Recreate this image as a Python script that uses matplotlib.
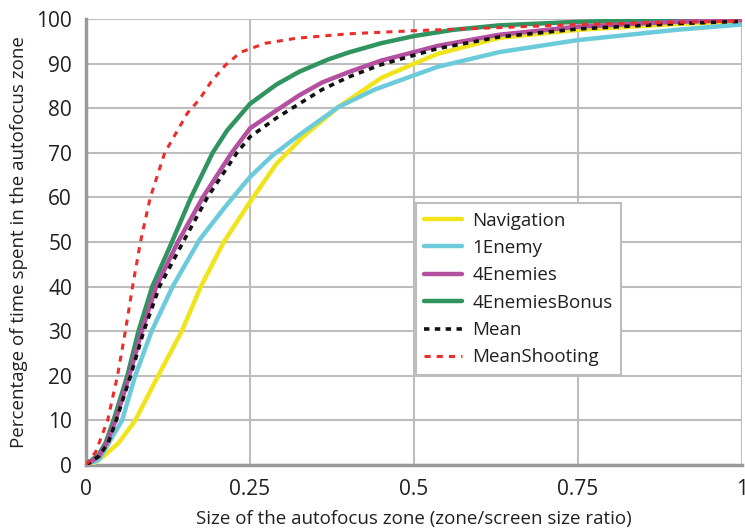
import matplotlib
matplotlib.use('Agg')
import matplotlib.pyplot as plt

plt.rcParams['font.family'] = ['Open Sans', 'DejaVu Sans']

# curves (x = zone/screen size ratio, y = % time)
nav_x = [0, 0.01, 0.027, 0.05, 0.075, 0.11, 0.146, 0.175, 0.21, 0.25, 0.29, 0.33, 0.385, 0.45, 0.5, 0.536, 0.63, 0.75, 0.9, 1.0]
nav_y = [0, 0.2, 2, 5, 10, 20, 30, 40, 50, 59, 67.5, 73.5, 80.3, 86.8, 90, 92.2, 95.8, 97.6, 98.9, 99.5]

one_x = [0, 0.02, 0.035, 0.055, 0.075, 0.1, 0.132, 0.173, 0.21, 0.238, 0.25, 0.284, 0.325, 0.385, 0.44, 0.5, 0.536, 0.63, 0.75, 0.9, 1.0]
one_y = [0, 1.2, 5, 10, 20, 30, 40, 50.5, 57.5, 62.5, 64.6, 69.4, 74, 80.3, 84.2, 87.4, 89.3, 92.6, 95.3, 97.6, 98.8]

four_x = [0, 0.02, 0.032, 0.045, 0.066, 0.085, 0.107, 0.14, 0.178, 0.222, 0.25, 0.29, 0.325, 0.36, 0.40, 0.45, 0.5, 0.536, 0.63, 0.75, 0.9, 1.0]
four_y = [0, 2, 5, 10, 20, 30, 40, 50, 60, 70, 75.5, 79.5, 82.9, 85.8, 88.1, 90.7, 92.6, 94, 96.5, 98.3, 99.4, 99.8]

bonus_x = [0, 0.02, 0.03, 0.042, 0.063, 0.08, 0.101, 0.131, 0.16, 0.193, 0.215, 0.25, 0.29, 0.325, 0.37, 0.40, 0.45, 0.5, 0.56, 0.63, 0.75, 0.9, 1.0]
bonus_y = [0, 2.5, 5, 10, 20, 30, 40, 50, 60, 70, 75, 81, 85.3, 88.2, 91, 92.5, 94.6, 96.2, 97.6, 98.6, 99.4, 99.9, 100]

mean_x = [0, 0.02, 0.034, 0.046, 0.068, 0.088, 0.112, 0.148, 0.185, 0.23, 0.25, 0.29, 0.325, 0.36, 0.40, 0.45, 0.5, 0.536, 0.63, 0.75, 0.9, 1.0]
mean_y = [0, 2, 5, 10, 20, 30, 40, 50, 60, 70, 73.6, 77.8, 81, 84.2, 87, 89.8, 91.9, 93.4, 96, 97.8, 99, 99.5]

shoot_x = [0, 0.015, 0.033, 0.048, 0.06, 0.071, 0.083, 0.098, 0.12, 0.155, 0.173, 0.191, 0.212, 0.236, 0.274, 0.32, 0.4, 0.5, 0.63, 0.75, 0.9, 1.0]
shoot_y = [0, 3, 10, 20, 30, 40, 50, 60, 70, 79, 82, 86, 89.6, 92.6, 94.6, 95.7, 96.7, 97.4, 98.1, 98.8, 99.3, 99.6]

x_ticks = [0, 0.25, 0.5, 0.75, 1]
x_tick_labels = ['0', '0.25', '0.5', '0.75', '1']
y_ticks = list(range(0, 101, 10))

fig = plt.figure(figsize=(7.45, 5.31), dpi=100)
ax = fig.add_axes([0.1154, 0.1243, 0.8806, 0.8397])

lw = 3.2
kw = dict(solid_joinstyle='round', solid_capstyle='round')
ax.plot(nav_x, nav_y, color='#f0e41c', lw=lw, label='Navigation', zorder=3, **kw)
ax.plot(one_x, one_y, color='#6ccbda', lw=lw, label='1Enemy', zorder=3, **kw)
ax.plot(four_x, four_y, color='#b3509f', lw=lw, label='4Enemies', zorder=4, **kw)
ax.plot(bonus_x, bonus_y, color='#2f9460', lw=lw, label='4EnemiesBonus', zorder=3, **kw)
ax.plot(mean_x, mean_y, color='#111111', lw=2.6, ls=(0, (1.5, 1.5)), label='Mean', zorder=5)
ax.plot(shoot_x, shoot_y, color='#ee2c2c', lw=2.2, ls=(0, (2.0, 2.0)), label='MeanShooting', zorder=5)

ax.set_xlim(0, 1)
ax.set_ylim(0, 100)
ax.set_xticks(x_ticks)
ax.set_xticklabels(x_tick_labels)
ax.set_yticks(y_ticks)

ax.grid(True, color='#bdbdbd', lw=1.5, zorder=0)
ax.set_axisbelow(True)
for s in ['top', 'right']:
    ax.spines[s].set_visible(False)
for s in ['left', 'bottom']:
    ax.spines[s].set_color('#9a9a9a')
    ax.spines[s].set_linewidth(2.5)
ax.tick_params(length=0, labelsize=15, colors='#231f20', pad=10)

ax.set_xlabel('Size of the autofocus zone (zone/screen size ratio)', fontsize=13.5, color='#231f20', labelpad=7)
ax.set_ylabel('Percentage of time spent in the autofocus zone', fontsize=13.5, color='#231f20', labelpad=6)

leg = ax.legend(loc='lower left', bbox_to_anchor=(0.503, 0.202), fontsize=13.5,
                frameon=True, fancybox=False, handlelength=2.0, labelspacing=0.5,
                borderpad=0.45, handletextpad=0.55, borderaxespad=0)
leg.get_frame().set_edgecolor('#bdbdbd')
leg.get_frame().set_linewidth(1.5)
leg.get_frame().set_alpha(1)
for t in leg.get_texts():
    t.set_color('#231f20')

fig.savefig('out.png', dpi=100)
